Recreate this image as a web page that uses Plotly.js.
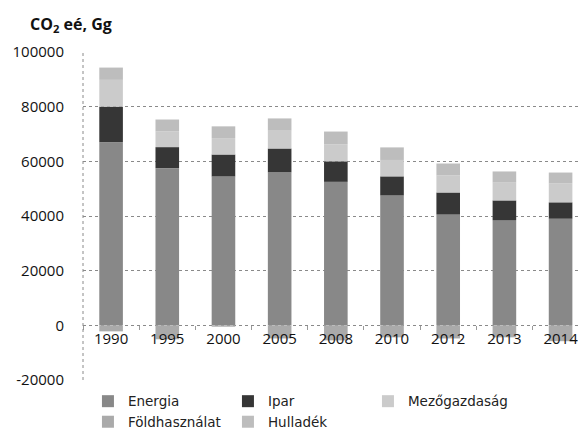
<!DOCTYPE html>
<html>
<head>
<meta charset="utf-8">
<script src="https://cdn.plot.ly/plotly-3.0.1.min.js"></script>
<style>html,body{margin:0;padding:0;background:#fff;}#chart{width:578px;height:430px;}</style>
</head>
<body>
<div id="chart"></div>
<script>
var years = ['1990','1995','2000','2005','2008','2010','2012','2013','2014'];
var energia = [67000, 57500, 54500, 56000, 52500, 47500, 40500, 38500, 39000];
var ipar = [13000, 7700, 8000, 8700, 7500, 7000, 8100, 7200, 6000];
var mezogazdasag = [9800, 5800, 6000, 6500, 6200, 6000, 6200, 6500, 7000];
var foldhasznalat = [-2200, -5100, -500, -4800, -5500, -4400, -4800, -4400, -5800];
var hulladek = [4500, 4300, 4300, 4500, 4700, 4600, 4400, 4100, 3900];

var yTicks = [-20000, 0, 20000, 40000, 60000, 80000, 100000];
var yTickText = ['-20000', '0', '20000', '40000', '60000', '80000', '100000'];

var FONT = 'Open Sans, Lato, sans-serif';
var LFONT = 'DejaVu Sans, sans-serif';

function bar(name, vals, color) {
  return {
    type: 'bar', name: name, x: years, y: vals,
    marker: {color: color, line: {width: 0}},
    width: 0.42, hoverinfo: 'y+name'
  };
}

var data = [
  bar('Energia', energia, '#888888'),
  bar('Ipar', ipar, '#363636'),
  bar('Mezőgazdaság', mezogazdasag, '#cbcbcb'),
  bar('Földhasználat', foldhasznalat, '#aaaaaa'),
  bar('Hulladék', hulladek, '#bdbdbd')
];

var layout = {
  width: 578, height: 430,
  margin: {l: 83, r: 0, t: 52, b: 50, autoexpand: false},
  paper_bgcolor: '#ffffff', plot_bgcolor: '#ffffff',
  barmode: 'relative',
  font: {family: FONT, size: 15, color: '#111'},
  showlegend: true,
  legend: {
    orientation: 'h', x: 0.01, xanchor: 'left', y: -0.018, yanchor: 'top',
    entrywidth: 95, entrywidthmode: 'pixels',
    font: {family: LFONT, size: 13.5, color: '#222'},
    tracegroupgap: 0, itemwidth: 30, traceorder: 'normal'
  },
  xaxis: {
    type: 'category', range: [-0.5, 8.31],
    anchor: 'free', position: 1/6,
    showgrid: false, zeroline: false, showline: false,
    ticks: 'outside', tickson: 'boundaries', ticklen: 4, tickcolor: '#9a9a9a', tickwidth: 1,
    ticklabelstandoff: 3,
    tickfont: {family: FONT, size: 15, color: '#111'}
  },
  yaxis: {
    range: [-20000, 100000],
    tickmode: 'array', tickvals: yTicks, ticktext: yTickText,
    showgrid: true, gridcolor: '#8a8a8a', griddash: 'dot', gridwidth: 1,
    zeroline: false, showline: false, ticks: '',
    ticklabelstandoff: 18,
    tickfont: {family: FONT, size: 15, color: '#111'}
  },
  shapes: [
    {type: 'line', xref: 'paper', yref: 'paper', x0: 0, x1: 0, y0: 0, y1: 1,
     line: {color: '#8a8a8a', width: 1, dash: 'dot'}}
  ],
  annotations: [
    {text: '<b>CO<sub>2</sub> eé, Gg</b>', xref: 'paper', yref: 'paper',
     x: -83/495 + 28/495, y: 1, xanchor: 'left', yanchor: 'bottom', yshift: 14,
     showarrow: false, font: {family: FONT, size: 16, color: '#111'}}
  ]
};

Plotly.newPlot('chart', data, layout, {displayModeBar: false, staticPlot: true});
</script>
</body>
</html>
